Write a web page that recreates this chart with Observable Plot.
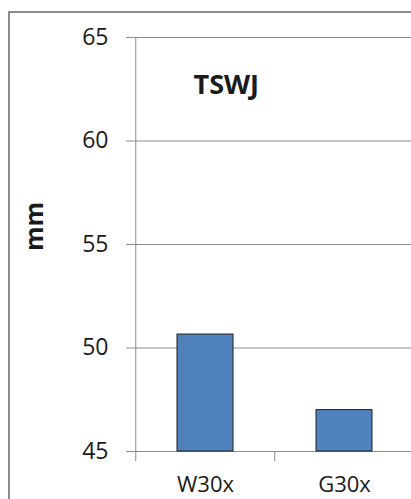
<!DOCTYPE html>
<html><head><meta charset="utf-8">
<script src="https://cdn.jsdelivr.net/npm/d3@7"></script>
<script src="https://cdn.jsdelivr.net/npm/@observablehq/plot@0.6"></script>
<style>
html,body{margin:0;padding:0;background:#fff;overflow:hidden;}
#wrap{position:relative;width:411px;height:499px;overflow:hidden;}
#chart svg{display:block;}
#border{position:absolute;left:8px;top:11px;width:600px;height:700px;border:2px solid #8c8c8c;box-sizing:border-box;pointer-events:none;}
</style></head><body><div id="wrap"><div id="chart"></div><div id="border"></div></div>
<script>
const categories = ["W30x", "G30x"];
const values = [50.65, 47.0];
const yTicks = [45, 50, 55, 60, 65];
const chartTitle = "TSWJ";
const yLabel = "mm";

const data = categories.map((c, i) => ({category: c, value: values[i]}));
const W = 411, H = 499, mL = 135, mR = -3, mT = 37, mB = 48;
const halfStep = (W - mL - mR) / categories.length / 2;
const gray = "#8c8c8c";
const ink = "#1a1a1a";

const plot = Plot.plot({
  width: W,
  height: H,
  marginLeft: mL,
  marginRight: mR,
  marginTop: mT,
  marginBottom: mB,
  style: {fontFamily: "'Open Sans', sans-serif", fontSize: "23px", background: "#fff", color: ink},
  x: {domain: categories, paddingInner: 0.6, paddingOuter: 0.3, align: 0.5},
  y: {domain: [yTicks[0], yTicks[yTicks.length - 1]]},
  marks: [
    Plot.gridY(yTicks, {stroke: gray, strokeOpacity: 1}),
    Plot.ruleX([categories[0]], {x: d => d, dx: -halfStep, stroke: gray}),
    Plot.axisX({tickSize: 10, tickFormat: () => "", dx: -halfStep, stroke: gray, label: null}),
    Plot.axisX({tickSize: 0, tickPadding: 25, fontSize: 22, fill: ink, label: null}),
    Plot.axisY({ticks: yTicks, tickSize: 9, tickPadding: 18, stroke: gray, fill: ink, label: null}),
    Plot.barY(data, {x: "category", y1: () => yTicks[0], y2: "value", fill: "#4f81bd", stroke: "#1f1f1f", strokeWidth: 1}),
    Plot.text([chartTitle], {frameAnchor: "top-left", dx: 58, dy: 48, textAnchor: "start", lineAnchor: "middle", fontSize: 27, fontWeight: "bold", fill: ink}),
    Plot.text([yLabel], {frameAnchor: "left", rotate: -90, dx: -101, dy: -18, textAnchor: "middle", lineAnchor: "middle", fontSize: 25, fontWeight: "bold", fill: ink})
  ]
});
document.getElementById("chart").appendChild(plot);
</script>
</body></html>
